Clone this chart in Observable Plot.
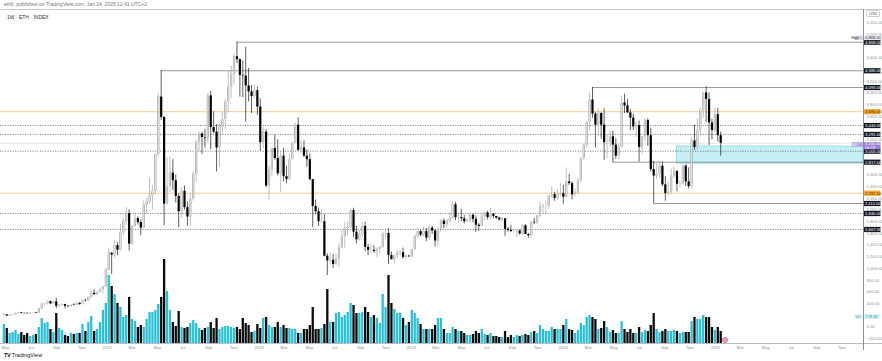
<!DOCTYPE html>
<html><head><meta charset="utf-8">
<script src="https://cdn.jsdelivr.net/npm/d3@7"></script>
<script src="https://cdn.jsdelivr.net/npm/@observablehq/plot@0.6"></script>
<style>
body{margin:0;background:#fff;font-family:"Liberation Sans",Arial,sans-serif;}
#wrap{position:relative;width:882px;height:361px;overflow:hidden;background:#fff;}
#wrap svg{position:absolute;left:0;top:0;background:transparent;overflow:visible;}
.hdr{position:absolute;left:4px;top:1px;font-size:5px;color:#777;white-space:nowrap;}
.leg{position:absolute;left:7px;top:14px;font-size:5px;color:#333;white-space:nowrap;}
.usd{position:absolute;left:866px;top:9.5px;font-size:4px;color:#555;border:0.5px solid #ccc;border-radius:1.5px;padding:0 2px;line-height:5px;}
.logo{position:absolute;left:4px;top:352px;font-size:5.5px;color:#131722;white-space:nowrap;}
.line{position:absolute;background:#c8cbd2;}
</style></head><body><div id="wrap"></div>
<script>
// ---------- data ----------
const weekStart = "2020-04-27";   // first weekly bar (Monday)
const firstOpen = 197;
const closes = [
207,187,199,207,231,245,233,228,225,241,
242,233,311,386,395,433,396,430,353,367,
385,354,346,375,368,405,384,455,447,509,
575,553,590,640,685,975,1262,1231,1391,1314,
1614,1800,1935,1417,1723,1853,1784,1691,2090,2139,
2240,2316,2950,3930,3580,2100,2400,2630,2500,2230,
1970,2320,2040,1880,2190,2610,3160,3300,3240,3230,
3950,3410,3330,3060,3410,3550,3850,4100,4320,4620,
4570,4300,4290,4120,4020,3940,4040,3760,3150,3330,
2410,2690,3050,2880,2620,2920,2570,2520,2860,3140,
3450,3020,3060,2920,2860,2520,2060,1970,1800,1800,
1210,1130,1140,1070,1160,1350,1550,1680,1700,1990,
1620,1490,1580,1720,1360,1310,1310,1290,1330,1360,
1590,1600,1220,1150,1220,1260,1270,1190,1210,1200,
1320,1550,1630,1570,1630,1520,1690,1640,1470,1670,
1810,1750,1810,1860,2090,1870,1870,1850,1800,1820,
1910,1840,1740,1720,1890,1950,1870,1930,1890,1860,
1830,1850,1670,1650,1630,1630,1640,1590,1730,1580,
1560,1790,1780,1900,2050,2060,2060,2240,2260,2200,
2270,2280,2220,2480,2450,2260,2290,2500,2880,3110,
3490,3880,3640,3450,3650,3450,3150,3150,3250,3110,
2920,3070,3830,3780,3660,3570,3420,3440,3070,3250,
3530,3270,2690,2580,2610,2750,2430,2280,2300,2580,
2660,2440,2440,2750,2480,2400,3180,3070,3360,3700,
4000,3890,3490,3360,3630,3270,3140];
const highs = [
228,215,212,215,245,253,249,239,247,244,
250,246,312,415,405,445,445,440,488,386,
397,389,367,377,395,418,417,469,476,510,
622,637,601,676,690,1000,1350,1270,1470,1440,
1750,1870,2040,2000,1730,1945,1880,1830,2150,2200,
2550,2420,2950,3990,4380,3600,2900,2900,2860,2600,
2280,2380,2410,2140,2280,2650,3180,3330,3330,3370,
3990,4030,3680,3460,3470,3670,3900,4380,4460,4660,
4868,4580,4550,4780,4420,4130,4130,4100,3900,3410,
3370,2750,3050,3280,3200,2980,3050,2750,2950,3160,
3480,3580,3180,3180,3030,2960,2520,2170,2030,2010,
1920,1250,1270,1240,1240,1420,1650,1790,1800,2020,
2030,1720,1650,1790,1790,1410,1400,1390,1350,1370,
1620,1680,1680,1280,1230,1300,1300,1350,1230,1230,
1330,1570,1680,1660,1710,1680,1740,1720,1670,1700,
1840,1850,1840,1950,2140,2130,1940,2010,1910,1850,
1930,1930,1900,1770,1930,1950,1980,2030,1940,1890,
1880,1870,1850,1700,1740,1660,1650,1660,1750,1750,
1600,1800,1860,1910,2130,2100,2130,2240,2400,2300,
2350,2450,2420,2720,2610,2480,2360,2540,2890,3130,
3520,4000,4093,3670,3730,3660,3730,3290,3360,3350,
3220,3120,3950,3980,3890,3720,3640,3500,3520,3250,
3560,3560,3400,2830,2790,2820,2820,2570,2470,2700,
2730,2670,2500,2770,2770,2720,3240,3450,3560,3740,
4000,4107,4000,3550,3740,3740,3330];
const lows = [
192,178,181,195,198,223,225,223,215,221,
237,228,232,304,358,373,383,380,309,330,
358,308,335,334,361,365,370,376,428,437,
487,540,530,583,565,680,950,900,1180,1220,
1300,1560,1730,1300,1400,1700,1740,1560,1690,1940,
2100,2000,2260,2900,3530,1730,2090,2300,2330,2120,
1700,1860,2000,1720,1710,2150,2470,2990,2950,3060,
3150,3030,3300,2650,2730,3280,3380,3670,3900,4150,
4500,3930,3920,3500,3850,3650,3900,3620,3000,3050,
2380,2170,2560,2850,2580,2300,2480,2450,2500,2860,
3140,3000,2960,2900,2730,2500,1700,1920,1720,1780,
1200,880,1060,1000,1040,1010,1340,1350,1560,1680,
1530,1420,1470,1530,1290,1220,1260,1260,1190,1250,
1340,1510,1070,1150,1080,1170,1220,1160,1160,1190,
1190,1320,1520,1540,1540,1460,1480,1580,1370,1370,
1620,1680,1690,1780,1850,1820,1780,1800,1760,1780,
1780,1780,1620,1630,1720,1810,1830,1840,1850,1840,
1810,1800,1550,1620,1620,1610,1530,1570,1570,1580,
1520,1540,1750,1750,1870,1930,1930,2010,2200,2150,
2160,2230,2100,2200,2420,2170,2220,2270,2470,2850,
3050,3350,3570,3060,3250,3210,2850,2880,3080,2815,
2870,2860,3060,3650,3650,3360,3360,3240,2820,2950,
3170,3090,2650,2111,2520,2540,2400,2150,2250,2270,
2540,2310,2380,2430,2400,2360,2360,3020,3020,3250,
3560,3500,3100,3200,3330,3160,2920];
const volumes = [
1235,975,650,715,845,585,715,520,650,455,
520,585,1040,1625,1300,1365,910,715,1950,975,
845,520,455,650,585,650,650,1235,780,1365,
1755,780,910,1365,2145,2600,4420,3705,3185,2600,
2340,1690,1820,2990,1560,1430,1040,1170,1040,1560,
2015,2015,2145,2535,2990,5460,3380,2145,1365,1105,
2080,1040,975,1040,1300,1495,1300,975,845,975,
1040,1365,975,1625,910,1040,1105,1105,1040,975,
1040,910,1625,1300,1170,715,780,1235,975,1625,
1690,1170,1040,1040,1365,1040,1170,975,975,910,
910,650,650,910,910,1170,2340,910,910,975,
1235,3510,1365,1365,1950,2015,1690,1820,2015,2600,
2470,1950,1950,2015,2340,2015,1690,1820,1625,1300,
3185,2340,4420,2600,2210,1950,1950,1625,1170,1365,
2145,1950,1625,1235,910,910,910,910,1170,1625,
1625,910,650,650,1040,910,780,780,650,520,
520,585,780,650,910,585,520,650,455,455,
390,390,780,390,520,390,520,455,520,585,
520,715,780,650,1170,910,780,780,1040,910,
910,910,1170,1560,910,845,650,845,1300,1170,
1690,1820,1690,1560,910,975,1430,1040,715,845,
650,650,1430,910,715,910,650,650,1040,715,
845,780,1170,1950,910,715,780,910,780,780,
845,780,650,715,715,715,1430,1690,1560,1560,
1820,1690,1690,1040,845,1040,778.46];

// horizontal levels drawn on the chart
const levelPrices = [4868, 4380, 4093, 3680, 3444, 3291, 3005, 2817, 2287, 2111, 1940, 1667];
const levelKinds  = ["box","box","box","orange","dot","dot","dot","box","orange","box","dot","dot"];
const levelStarts = ["2021-11-08","2021-05-10","2024-03-11",null,null,null,null,"2024-04-29",null,"2024-08-05",null,null];
const zoneStart = "2024-09-30", zoneLow = 2793, zoneHigh = 3085;
const lastPrice = 3140, lastCountdown = "5d 12h", highPrice = 4868;

// axis tick labels
const yTicks = [5200,5000,4600,4200,4000,3800,3600,3200,2600,2400,2200,2000,1800,1600,1400,1200,1000,800,600,400,0,-200];
const xTickDates = ["2020-05-01","2020-07-01","2020-09-01","2020-11-01","2021-01-01","2021-03-01","2021-05-01","2021-07-01","2021-09-01","2021-11-01",
  "2022-01-01","2022-03-01","2022-05-01","2022-07-01","2022-09-01","2022-11-01","2023-01-01","2023-03-01","2023-05-01","2023-07-01","2023-09-01","2023-11-01",
  "2024-01-01","2024-03-01","2024-05-01","2024-07-01","2024-09-01","2024-11-01","2025-01-01","2025-03-01","2025-05-01","2025-07-01","2025-09-01","2025-11-01"];
const xTickLabels = ["May","Jul","Sep","Nov","2021","Mar","May","Jul","Sep","Nov","2022","Mar","May","Jul","Sep","Nov","2023","Mar","May","Jul","Sep","Nov",
  "2024","Mar","May","Jul","Sep","Nov","2025","Mar","May","Jul","Sep","Nov"];

// ---------- build ----------
const t0 = new Date(weekStart + "T00:00:00Z");
const candles = closes.map((c, i) => {
  const open = i === 0 ? firstOpen : closes[i - 1];
  return {date: new Date(+t0 + i * 7 * 864e5), open, close: c,
    high: Math.max(highs[i], open, c), low: Math.min(lows[i], open, c),
    volume: volumes[i], up: c >= open};
});
const xDomain = [new Date("2020-04-19T00:00:00Z"), new Date("2025-12-22T00:00:00Z")];
const xEnd = xDomain[1];
const levels = levelPrices.map((p, i) => ({price: p, kind: levelKinds[i],
  start: levelStarts[i] ? new Date(levelStarts[i] + "T00:00:00Z") : xDomain[0]}));
const tickDates = xTickDates.map(d => new Date(d + "T00:00:00Z"));
const fmt = d3.format(",.2f");
const font = "Liberation Sans, Arial, sans-serif";
const base = {width: 882, height: 361, marginTop: 9, marginBottom: 18, marginLeft: 0, marginRight: 19,
  style: {fontFamily: font, background: "transparent", overflow: "visible"}};

const box = (w, h, off = 0) => ({draw(ctx) { ctx.rect(0, -h / 2 + off, w, h); }});
const boxL = (w, h) => ({draw(ctx) { ctx.rect(-w, -h / 2, w, h); }});

// volume layer
const volPlot = Plot.plot({...base,
  x: {type: "utc", domain: xDomain, axis: null},
  y: {domain: [0, 5460], range: [343, 259], axis: null},
  marks: [
    Plot.ruleX(candles, {x: "date", y1: 0, y2: "volume", stroke: d => d.up ? "#27c0d6" : "#0b0b0b", strokeWidth: 2.3})
  ]
});

const lineColor = {box: "#7c7c7c", orange: "#f3c680", dot: "#555"};
const labelBg = {box: "#131722", orange: "#f7a928", dot: "#131722"};
const labelFg = {box: "#fff", orange: "#3a2a00", dot: "#fff"};

const pricePlot = Plot.plot({...base,
  x: {type: "utc", domain: xDomain},
  y: {domain: [-282, 5427]},
  style: {...base.style, color: "#8d9099"},
  marks: [
    Plot.rect([{x1: new Date(zoneStart + "T00:00:00Z"), x2: xEnd, y1: zoneLow, y2: zoneHigh}],
      {x1: "x1", x2: "x2", y1: "y1", y2: "y2", fill: "#26c6da", fillOpacity: 0.27, stroke: "#5fd3e3", strokeWidth: 0.6}),
    Plot.ruleY(levels.filter(d => d.kind === "orange"), {y: "price", stroke: lineColor.orange, strokeWidth: 0.9}),
    Plot.ruleY(levels.filter(d => d.kind === "dot"), {y: "price", stroke: lineColor.dot, strokeWidth: 0.7, strokeDasharray: "1.2,1.3"}),
    Plot.ruleY(levels.filter(d => d.kind === "box"), {y: "price", x1: "start", x2: () => xEnd, stroke: lineColor.box, strokeWidth: 0.8}),
    Plot.ruleY([lastPrice], {stroke: "#d4d4d4", strokeWidth: 0.6}),
    // wicks
    Plot.ruleX(candles, {x: "date", y1: "low", y2: "high", stroke: d => d.up ? "#a3a3a3" : "#1a1a1a", strokeWidth: 0.7}),
    // bodies
    Plot.ruleX(candles, {x: "date", y1: "open", y2: "close", stroke: d => d.up ? "#a0a0a0" : "#000", strokeWidth: 2.2}),
    Plot.ruleX(candles.filter(d => d.up), {x: "date", y1: "open", y2: "close", stroke: "#e6e6e6", strokeWidth: 1.0}),
    // axes
    Plot.axisY({anchor: "right", ticks: yTicks, tickSize: 0, tickPadding: 3, tickFormat: fmt, fontSize: 4.2}),
    Plot.axisX({ticks: tickDates, tickSize: 0, tickPadding: 2.2, fontSize: 4.2,
      tickFormat: d => xTickLabels[tickDates.findIndex(t => +t === +d)]}),
    // price labels
    Plot.dot(levels, {y: "price", frameAnchor: "right", symbol: box(17, 5.2), fill: d => labelBg[d.kind], stroke: null}),
    Plot.text(levels, {y: "price", frameAnchor: "right", dx: 1.6, textAnchor: "start", text: d => fmt(d.price),
      fill: d => labelFg[d.kind], fontSize: 4.2}),
    // high label
    Plot.dot([highPrice], {y: d => d, frameAnchor: "right", dy: -4.4, symbol: box(17, 4.6), fill: "#e9ebf0", stroke: null}),
    Plot.text([highPrice], {y: d => d, frameAnchor: "right", dy: -4.4, dx: 1.6, textAnchor: "start", text: d => fmt(d), fill: "#333", fontSize: 4.1}),
    Plot.dot([highPrice], {y: d => d, frameAnchor: "right", dy: -4.4, symbol: boxL(9, 4.4), fill: "#d1d4dc", stroke: null}),
    Plot.text([highPrice], {y: d => d, frameAnchor: "right", dy: -4.4, dx: -4.5, text: () => "High", fill: "#333", fontSize: 3.8}),
    // last price (two lines) + symbol label
    Plot.dot([lastPrice], {y: d => d, frameAnchor: "right", symbol: box(17, 7.4, 2.4), fill: "#9c7fd6", stroke: null}),
    Plot.text([lastPrice], {y: d => d, frameAnchor: "right", dx: 1.6, dy: 0.9, textAnchor: "start", text: d => fmt(d), fill: "#fff", fontSize: 3.8}),
    Plot.text([lastPrice], {y: d => d, frameAnchor: "right", dx: 1.6, dy: 4.3, textAnchor: "start", text: () => lastCountdown, fill: "#fff", fontSize: 3.5}),
    Plot.dot([lastPrice], {y: d => d, frameAnchor: "right", dy: 1.2, symbol: boxL(12, 4.6), fill: "#b9a3e6", stroke: null}),
    Plot.text([lastPrice], {y: d => d, frameAnchor: "right", dy: 1.2, dx: -6, text: () => "ETHUSD", fill: "#fff", fontSize: 3.6}),
    // volume label
    Plot.dot([180], {y: d => d, frameAnchor: "right", symbol: box(17, 5), fill: "#d8f3f7", stroke: null}),
    Plot.text([180], {y: d => d, frameAnchor: "right", dx: 1.6, textAnchor: "start", text: () => fmt(volumes[volumes.length - 1]), fill: "#1a9fb5", fontSize: 4.1}),
    Plot.dot([180], {y: d => d, frameAnchor: "right", symbol: boxL(7, 4.6), fill: "#d8f3f7", stroke: null}),
    Plot.text([180], {y: d => d, frameAnchor: "right", dx: -3.5, text: () => "Vol", fill: "#1a9fb5", fontSize: 3.8})
  ]
});

const wrap = document.getElementById("wrap");
wrap.appendChild(volPlot);
wrap.appendChild(pricePlot);
const add = (cls, css, html) => { const d = document.createElement("div"); d.className = cls; if (css) d.style.cssText = css; if (html) d.innerHTML = html; wrap.appendChild(d); };
add("line", "left:0;top:9px;width:882px;height:0.6px;");
add("line", "left:0;top:343.3px;width:882px;height:0.6px;background:#b9bcc4;");
add("line", "left:862.6px;top:9px;width:0.7px;height:341px;background:#8f929b;");
add("hdr", "", "ethfi, published on TradingView.com, Jan 14, 2025 12:41 UTC+2");
add("leg", "", "1W · ETH · INDEX");
add("usd", "", "USD");
add("logo", "", "<b style='letter-spacing:-0.3px'>TV</b> TradingView");
add("", "position:absolute;left:722px;top:336.5px;width:6px;height:6px;border-radius:50%;background:#f4a3bd;border:0.6px solid #e57399;box-sizing:border-box;");
</script></body></html>
